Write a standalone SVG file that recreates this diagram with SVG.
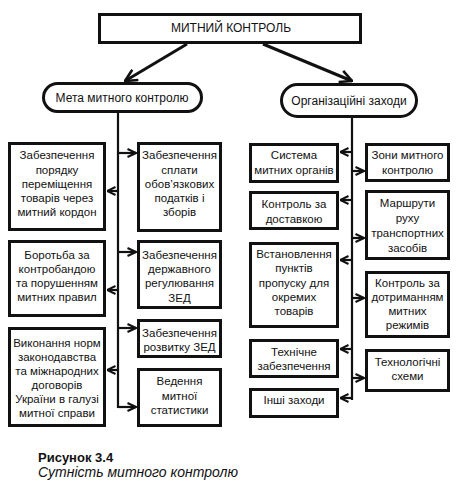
<svg xmlns="http://www.w3.org/2000/svg" width="458" height="485" viewBox="0 0 458 485">
<style>
.box{fill:#fff;stroke:#111;stroke-width:3}
.t{font-family:"Liberation Sans",Arial,sans-serif;font-size:11.5px;fill:#111;text-anchor:middle}
.h{font-family:"Liberation Sans",Arial,sans-serif;font-size:12px;fill:#111;text-anchor:middle}
.ln{stroke:#111;stroke-width:2.2;fill:none}
.big{stroke:#111;stroke-width:3;fill:none}
</style>
<defs>
<marker id="a" viewBox="0 0 10 10" refX="9.5" refY="5" markerWidth="10" markerHeight="10" markerUnits="userSpaceOnUse" orient="auto">
<path d="M1,1 L9.5,5 L1,9" fill="none" stroke="#111" stroke-width="2"/>
</marker>
<marker id="b" viewBox="0 0 14 14" refX="13" refY="7" markerWidth="14" markerHeight="14" markerUnits="userSpaceOnUse" orient="auto">
<path d="M1,1 L13,7 L1,13" fill="none" stroke="#111" stroke-width="2.6"/>
</marker>
</defs>
<rect width="458" height="485" fill="#fff"/>
<g id="connectors">
<line class="big" x1="187" y1="44" x2="125" y2="81" marker-end="url(#b)"/>
<line class="big" x1="263" y1="44" x2="352" y2="81" marker-end="url(#b)"/>
<line class="ln" x1="118" y1="113" x2="118" y2="408"/>
<line class="ln" x1="352" y1="118" x2="352" y2="400"/>
<line class="ln" x1="118" y1="153" x2="136" y2="153" marker-end="url(#a)"/>
<line class="ln" x1="118" y1="191" x2="107" y2="191" marker-end="url(#a)"/>
<line class="ln" x1="118" y1="252" x2="136" y2="252" marker-end="url(#a)"/>
<line class="ln" x1="118" y1="290" x2="107" y2="290" marker-end="url(#a)"/>
<line class="ln" x1="118" y1="328" x2="136" y2="328" marker-end="url(#a)"/>
<line class="ln" x1="118" y1="370" x2="107" y2="370" marker-end="url(#a)"/>
<line class="ln" x1="118" y1="407" x2="136" y2="407" marker-end="url(#a)"/>
<line class="ln" x1="352" y1="152" x2="340" y2="152" marker-end="url(#a)"/>
<line class="ln" x1="352" y1="171" x2="364" y2="171" marker-end="url(#a)"/>
<line class="ln" x1="352" y1="200" x2="340" y2="200" marker-end="url(#a)"/>
<line class="ln" x1="352" y1="238" x2="364" y2="238" marker-end="url(#a)"/>
<line class="ln" x1="352" y1="260" x2="340" y2="260" marker-end="url(#a)"/>
<line class="ln" x1="352" y1="298" x2="364" y2="298" marker-end="url(#a)"/>
<line class="ln" x1="352" y1="349" x2="340" y2="349" marker-end="url(#a)"/>
<line class="ln" x1="352" y1="378" x2="364" y2="378" marker-end="url(#a)"/>
<line class="ln" x1="352" y1="398" x2="340" y2="398" marker-end="url(#a)"/>
</g>
<g id="root">
<rect class="box" x="99.5" y="14.5" width="261" height="28"/>
<text class="h" x="231" y="32">МИТНИЙ КОНТРОЛЬ</text>
</g>
<g id="goal">
<rect class="box" x="43.5" y="83.5" width="158" height="28" rx="14"/>
<text class="h" x="122" y="102">Мета митного контролю</text>
</g>
<g id="measures">
<rect class="box" x="281.5" y="84.5" width="135" height="32" rx="16"/>
<text class="h" x="349" y="105">Організаційні заходи</text>
</g>
<g id="l1">
<rect class="box" x="9.5" y="143.5" width="95" height="86"/>
<text class="t" x="57"><tspan x="57" y="159">Забезпечення</tspan><tspan x="57" y="174">порядку</tspan><tspan x="57" y="188">переміщення</tspan><tspan x="57" y="202">товарів через</tspan><tspan x="57" y="216">митний кордон</tspan></text>
</g>
<g id="r1">
<rect class="box" x="138.5" y="143.5" width="82" height="87"/>
<text class="t" x="179.5"><tspan x="179.5" y="159">Забезпечення</tspan><tspan x="179.5" y="174">сплати</tspan><tspan x="179.5" y="188">обов’язкових</tspan><tspan x="179.5" y="202">податків і</tspan><tspan x="179.5" y="216">зборів</tspan></text>
</g>
<g id="l2">
<rect class="box" x="9.5" y="241.5" width="95" height="74"/>
<text class="t" x="57"><tspan x="57" y="259">Боротьба за</tspan><tspan x="57" y="273">контробандою</tspan><tspan x="57" y="287">та порушенням</tspan><tspan x="57" y="301">митних правил</tspan></text>
</g>
<g id="r2">
<rect class="box" x="138.5" y="241.5" width="82" height="66"/>
<text class="t" x="179.5"><tspan x="179.5" y="259">Забезпечення</tspan><tspan x="179.5" y="273">державного</tspan><tspan x="179.5" y="287">регулювання</tspan><tspan x="179.5" y="302">ЗЕД</tspan></text>
</g>
<g id="r3">
<rect class="box" x="138.5" y="320.5" width="82" height="36"/>
<text class="t" x="179.5"><tspan x="179.5" y="337">Забезпечення</tspan><tspan x="179.5" y="351">розвитку ЗЕД</tspan></text>
</g>
<g id="l3">
<rect class="box" x="9.5" y="328.5" width="95" height="97"/>
<text class="t" x="57"><tspan x="57" y="347">Виконання норм</tspan><tspan x="57" y="361">законодавства</tspan><tspan x="57" y="375">та міжнародних</tspan><tspan x="57" y="389">договорів</tspan><tspan x="57" y="403">України в галузі</tspan><tspan x="57" y="417">митної справи</tspan></text>
</g>
<g id="r4">
<rect class="box" x="138.5" y="369.5" width="82" height="56"/>
<text class="t" x="179.5"><tspan x="179.5" y="385">Ведення</tspan><tspan x="179.5" y="400">митної</tspan><tspan x="179.5" y="414">статистики</tspan></text>
</g>
<g id="rl1">
<rect class="box" x="250.5" y="144.5" width="87" height="37"/>
<text class="t" x="294"><tspan x="294" y="159">Система</tspan><tspan x="294" y="174">митних органів</tspan></text>
</g>
<g id="rr1">
<rect class="box" x="366.5" y="144.5" width="82" height="36"/>
<text class="t" x="407.5"><tspan x="407.5" y="159">Зони митного</tspan><tspan x="407.5" y="174">контролю</tspan></text>
</g>
<g id="rl2">
<rect class="box" x="250.5" y="192.5" width="87" height="36"/>
<text class="t" x="294"><tspan x="294" y="208">Контроль за</tspan><tspan x="294" y="223">доставкою</tspan></text>
</g>
<g id="rr2">
<rect class="box" x="366.5" y="191.5" width="82" height="67"/>
<text class="t" x="407.5"><tspan x="407.5" y="207">Маршрути</tspan><tspan x="407.5" y="222">руху</tspan><tspan x="407.5" y="237">транспортних</tspan><tspan x="407.5" y="252">засобів</tspan></text>
</g>
<g id="rl3">
<rect class="box" x="250.5" y="243.5" width="87" height="83"/>
<text class="t" x="294"><tspan x="294" y="258">Встановлення</tspan><tspan x="294" y="272">пунктів</tspan><tspan x="294" y="287">пропуску для</tspan><tspan x="294" y="301">окремих</tspan><tspan x="294" y="315">товарів</tspan></text>
</g>
<g id="rr3">
<rect class="box" x="366.5" y="272.5" width="82" height="64"/>
<text class="t" x="407.5"><tspan x="407.5" y="287">Контроль за</tspan><tspan x="407.5" y="301">дотриманням</tspan><tspan x="407.5" y="315">митних</tspan><tspan x="407.5" y="329">режимів</tspan></text>
</g>
<g id="rl4">
<rect class="box" x="250.5" y="340.5" width="87" height="36"/>
<text class="t" x="294"><tspan x="294" y="356">Технічне</tspan><tspan x="294" y="370">забезпечення</tspan></text>
</g>
<g id="rr4">
<rect class="box" x="366.5" y="350.5" width="82" height="40"/>
<text class="t" x="407.5"><tspan x="407.5" y="366">Технологічні</tspan><tspan x="407.5" y="380">схеми</tspan></text>
</g>
<g id="rl5">
<rect class="box" x="250.5" y="389.5" width="87" height="27"/>
<text class="t" x="294" y="404">Інші заходи</text>
</g>
<g id="caption">
<text x="38" y="462" font-family="Liberation Sans, Arial, sans-serif" font-size="13" font-weight="bold" fill="#111">Рисунок 3.4</text>
<text x="38" y="477" font-family="Liberation Sans, Arial, sans-serif" font-size="14" font-style="italic" fill="#111" textLength="200" lengthAdjust="spacing">Сутність митного контролю</text>
</g>
</svg>
